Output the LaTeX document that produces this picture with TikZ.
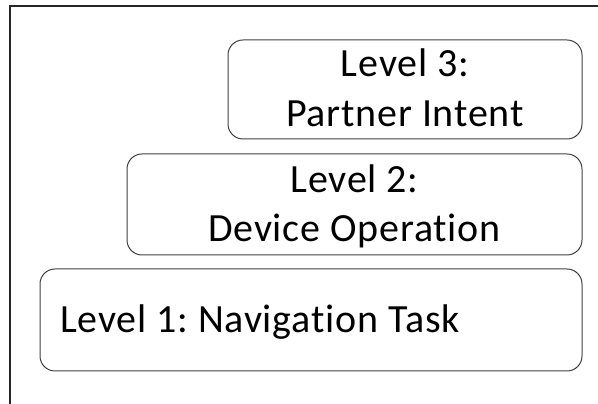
\documentclass[tikz,border=0pt]{standalone}
\usepackage{fontspec}
\setmainfont{Carlito}[Ligatures={NoCommon,NoContextual}, LetterSpace=2]
\frenchspacing
\begin{document}
\begin{tikzpicture}[x=1pt,y=1pt,
  box/.style={draw=black!75, line width=1pt, rounded corners=15pt, inner sep=0pt},
  lbl/.style={inner sep=0pt, font=\fontsize{40}{50}\selectfont, text=black}]
\useasboundingbox (0,0) rectangle (598,404);
\coordinate (fa) at (10,0);
\coordinate (fb) at (10,398);
\coordinate (fc) at (598,398);
\draw[line width=1.3pt, black!85] (fa) -- (fb) -- (fc);
\node[box, minimum width=354pt, minimum height=99pt] (b3) at (405,314.5) {};
\node[box, minimum width=455pt, minimum height=101pt] (b2) at (354.5,199.5) {};
\node[box, minimum width=542pt, minimum height=102pt] (b1) at (311,84) {};
\node[lbl, anchor=base] (t3a) at (405,327) {Level 3:};
\node[lbl, anchor=base] (t3b) at (405,277) {Partner Intent};
\node[lbl, anchor=base] (t2a) at (354.5,211) {Level 2:};
\node[lbl, anchor=base] (t2b) at (354.5,162) {Device Operation};
\node[lbl, anchor=base west] (t1) at (60,71) {Level 1: Navigation Task};
\end{tikzpicture}
\end{document}
